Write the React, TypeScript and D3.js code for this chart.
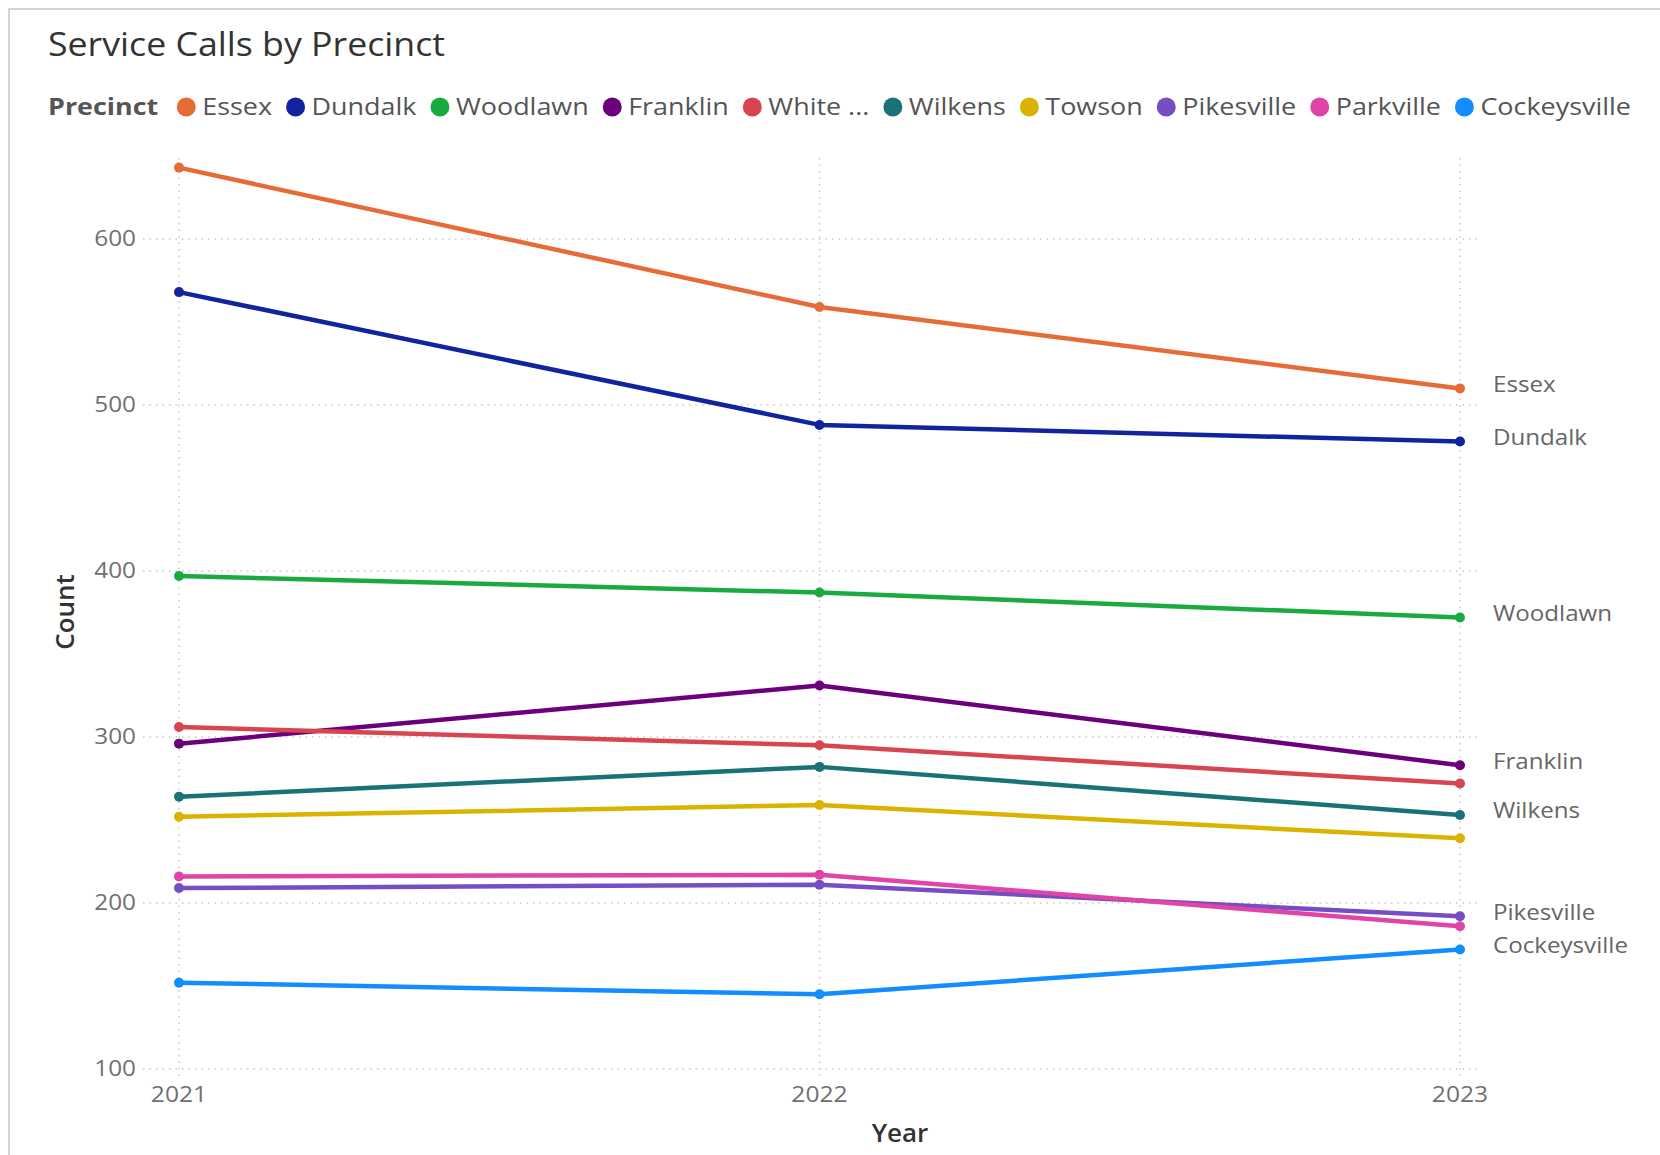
import React from "react";
import * as d3 from "d3";

const years = ["2021", "2022", "2023"];
const seriesNames = ["Essex", "Dundalk", "Woodlawn", "Franklin", "White Marsh", "Wilkens", "Towson", "Pikesville", "Parkville", "Cockeysville"];
const legendLabels = ["Essex", "Dundalk", "Woodlawn", "Franklin", "White ...", "Wilkens", "Towson", "Pikesville", "Parkville", "Cockeysville"];
const seriesColors = ["#E66C37", "#12239E", "#1AAB40", "#6B007B", "#D64550", "#197278", "#D9B300", "#744EC2", "#E044A7", "#118DFF"];
const essex = [643, 559, 510];
const dundalk = [568, 488, 478];
const woodlawn = [397, 387, 372];
const franklin = [296, 331, 283];
const whiteMarsh = [306, 295, 272];
const wilkens = [264, 282, 253];
const towson = [252, 259, 239];
const pikesville = [209, 211, 192];
const parkville = [216, 217, 186];
const cockeysville = [152, 145, 172];
const seriesValues = [essex, dundalk, woodlawn, franklin, whiteMarsh, wilkens, towson, pikesville, parkville, cockeysville];
const endLabelSeries = ["Essex", "Dundalk", "Woodlawn", "Franklin", "Wilkens", "Pikesville", "Cockeysville"];
const yTicks = [100, 200, 300, 400, 500, 600];

const W = 1660;
const H = 1155;
const FONT = "'Open Sans', 'Noto Sans', sans-serif";

function measure(text: string, font: string): number {
  const c = document.createElement("canvas").getContext("2d");
  if (!c) return text.length * 10;
  c.font = font;
  return c.measureText(text).width;
}

type TProps = {
  x: number;
  y: number;
  sx?: number;
  anchor?: "start" | "middle" | "end";
  size: number;
  weight?: number | string;
  fill: string;
  dy?: string;
  children: React.ReactNode;
};

function T({ x, y, sx = 1, anchor = "start", size, weight = 400, fill, dy, children }: TProps) {
  return (
    <text
      transform={`translate(${x},${y}) scale(${sx},1)`}
      textAnchor={anchor}
      fontFamily={FONT}
      fontSize={size}
      fontWeight={weight}
      fill={fill}
      dy={dy}
    >
      {children}
    </text>
  );
}

export default function App() {
  const x = d3.scalePoint<string>().domain(years).range([179, 1460]);
  const y = d3.scaleLinear().domain([100, 650]).range([1069, 156]);
  const line = d3
    .line<number>()
    .x((_, i) => x(years[i]) as number)
    .y((d) => y(d));

  // legend layout
  const legSize = 23;
  const legSx = 1.17;
  const legFont = `${legSize}px ${FONT}`;
  const titleW = measure("Precinct", `bold ${legSize}px ${FONT}`) * legSx;
  let cursor = 48 + titleW + 28;
  const legendItems = legendLabels.map((lab, i) => {
    const cx = cursor;
    const tx = cx + 16;
    const w = measure(lab, legFont) * legSx;
    cursor = tx + w + 23.5;
    return { lab, cx, tx, color: seriesColors[i] };
  });

  return (
    <div style={{ position: "absolute", left: 0, top: 0 }}>
      <svg width={W} height={H} style={{ display: "block", background: "#fff" }}>
        <rect x={9} y={9} width={W + 10} height={H + 10} fill="#fff" stroke="#C8C8C8" strokeWidth={1.5} />
        <text
          x={48}
          y={56}
          fontFamily={FONT}
          fontSize={32}
          fontWeight={500}
          fill="#333333"
          textLength={397}
          lengthAdjust="spacingAndGlyphs"
        >
          Service Calls by Precinct
        </text>
        <T x={48} y={115} size={legSize} sx={legSx} weight="bold" fill="#555555">Precinct</T>
        {legendItems.map((it) => (
          <g key={it.lab}>
            <circle cx={it.cx} cy={107} r={9.5} fill={it.color} />
            <T x={it.tx} y={115} size={legSize} sx={legSx} fill="#555555">{it.lab}</T>
          </g>
        ))}
        {/* gridlines */}
        <g stroke="#C8C6C4" strokeWidth={1.5} strokeDasharray="1.5 5">
          {yTicks.map((t) => (
            <line key={t} x1={143} x2={1482} y1={y(t)} y2={y(t)} />
          ))}
          {years.map((yr) => (
            <line key={yr} x1={x(yr)} x2={x(yr)} y1={158} y2={1080} />
          ))}
        </g>
        {/* y tick labels */}
        {yTicks.map((t) => (
          <T key={t} x={136} y={y(t)} dy="0.35em" anchor="end" size={21} sx={1.16} fill="#707070">{t}</T>
        ))}
        {years.map((yr) => (
          <T key={yr} x={x(yr) as number} y={1102} anchor="middle" size={22} sx={1.12} fill="#707070">{yr}</T>
        ))}
        <T x={900} y={1142} anchor="middle" size={26} weight={600} fill="#333333">Year</T>
        <text
          transform="translate(74,612) rotate(-90)"
          textAnchor="middle"
          fontFamily={FONT}
          fontSize={26}
          fontWeight={600}
          fill="#333333"
        >
          Count
        </text>
        {/* lines */}
        {seriesValues.map((vals, i) => (
          <g key={seriesNames[i]}>
            <path d={line(vals) || ""} fill="none" stroke={seriesColors[i]} strokeWidth={4.5} strokeLinejoin="round" />
            {vals.map((v, j) => (
              <circle key={j} cx={x(years[j])} cy={y(v)} r={5} fill={seriesColors[i]} />
            ))}
          </g>
        ))}
        {/* end labels */}
        {seriesNames.map((name, i) =>
          endLabelSeries.includes(name) ? (
            <T key={name} x={1493} y={y(seriesValues[i][2]) - 4} dy="0.35em" size={21} sx={1.15} fill="#666666">{name}</T>
          ) : null
        )}
      </svg>
    </div>
  );
}
